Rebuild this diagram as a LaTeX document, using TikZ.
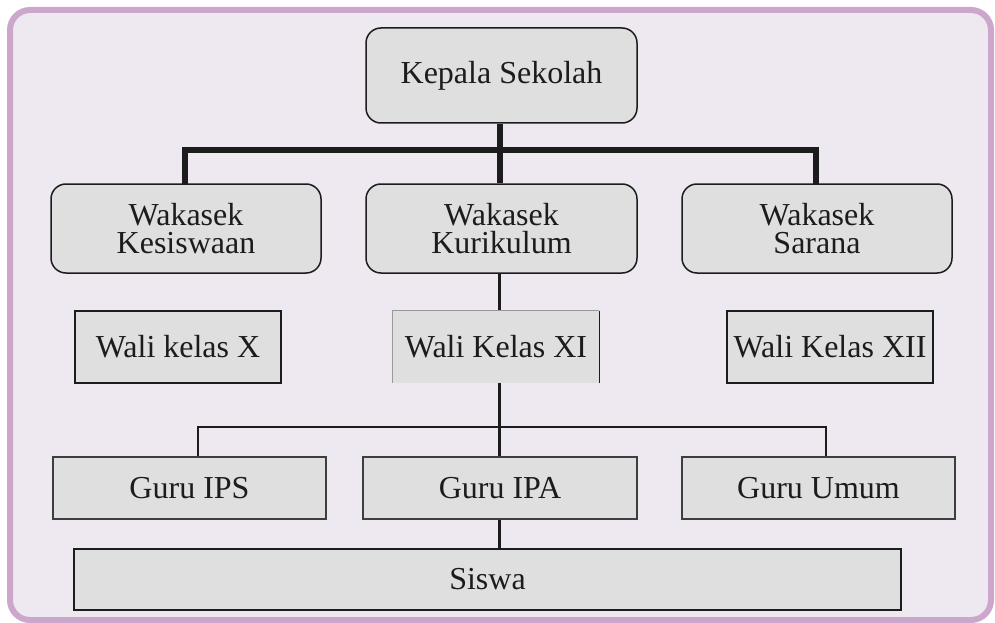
\documentclass[tikz,border=0pt]{standalone}
\usepackage{fontspec}
\setmainfont{Liberation Serif}
\definecolor{frameline}{HTML}{CCA7CB}
\definecolor{framefill}{HTML}{EEE8F1}
\definecolor{boxfill}{HTML}{DFDFDF}
\definecolor{ink}{HTML}{1C1C1C}
\pgfdeclarelayer{bgA}
\pgfdeclarelayer{bgB}
\pgfsetlayers{bgA,bgB,main}
\tikzset{
  txt/.style={font=\fontsize{32}{28}\selectfont, text=ink, align=center, inner sep=0pt},
  roundbox/.style={txt, draw=ink, line width=1.5pt, fill=boxfill, rounded corners=15pt},
  walibox/.style={txt, draw=ink, line width=1.8pt, fill=boxfill, minimum width=206pt, minimum height=72pt},
  gurubox/.style={txt, draw=ink!85, line width=1.3pt, fill=boxfill, minimum height=62pt},
  thickline/.style={draw=ink, line width=6pt},
  thinline/.style={draw=ink, line width=2.6pt},
  midline/.style={draw=ink, line width=2pt}
}
\begin{document}
\begin{tikzpicture}[x=1pt,y=-1pt]
\useasboundingbox (0,0) rectangle (995,623);
\begin{pgfonlayer}{bgA}
  \fill[white] (0,0) rectangle (995,623);
  \draw[frameline, fill=framefill, line width=6pt, rounded corners=20pt] (10,10) rectangle (991,620);
\end{pgfonlayer}

\node[roundbox, minimum width=271pt, minimum height=95pt] (kepala) at (501.5,75.5) {Kepala Sekolah};
\node[roundbox, minimum width=270pt, minimum height=89pt] (wk1) at (186,228.5) {Wakasek\\Kesiswaan};
\node[roundbox, minimum width=271pt, minimum height=89pt] (wk2) at (501.5,228.5) {Wakasek\\Kurikulum};
\node[roundbox, minimum width=270pt, minimum height=89pt] (wk3) at (817,228.5) {Wakasek\\Sarana};

\node[walibox] (wx) at (178,347) {Wali kelas X};
\node[txt, fill=boxfill, minimum width=206pt, minimum height=72pt] (wxi) at (496,347) {Wali Kelas XI};
\draw[ink!45, line width=0.9pt] (wxi.south west) -- (wxi.north west) -- (wxi.north east);
\draw[ink, line width=1.2pt] (wxi.north east) -- (wxi.south east);
\node[walibox] (wxii) at (830,347) {Wali Kelas XII};

\node[gurubox, minimum width=273pt] (ips) at (189.5,488) {Guru IPS};
\node[gurubox, minimum width=274pt] (ipa) at (500,488) {Guru IPA};
\node[gurubox, minimum width=273pt] (umum) at (818.5,488) {Guru Umum};

\node[txt, draw=ink, line width=1.6pt, fill=boxfill, minimum width=827pt, minimum height=61pt] (siswa) at (487.5,579.5) {Siswa};

\coordinate (spine) at (499.5,0);
\coordinate (hubA) at (499.5,150);
\coordinate (hubB) at (499.5,427);

\begin{pgfonlayer}{bgB}
  \draw[thickline] (kepala.south -| spine) -- (wk2.north -| spine);
  \draw[thickline, line cap=rect] ([xshift=-1pt]wk1.north) |- (hubA) -| ([xshift=-1pt]wk3.north);
  \draw[thinline] (wk2.south -| spine) -- (wxi.north -| spine);
  \draw[thinline] (wxi.south -| spine) -- (ipa.north -| spine);
  \draw[thinline] (ipa.south -| spine) -- (siswa.north -| spine);
  \draw[midline] ([xshift=8.5pt]ips.north) |- (hubB) -| ([xshift=7.5pt]umum.north);
\end{pgfonlayer}
\end{tikzpicture}
\end{document}
